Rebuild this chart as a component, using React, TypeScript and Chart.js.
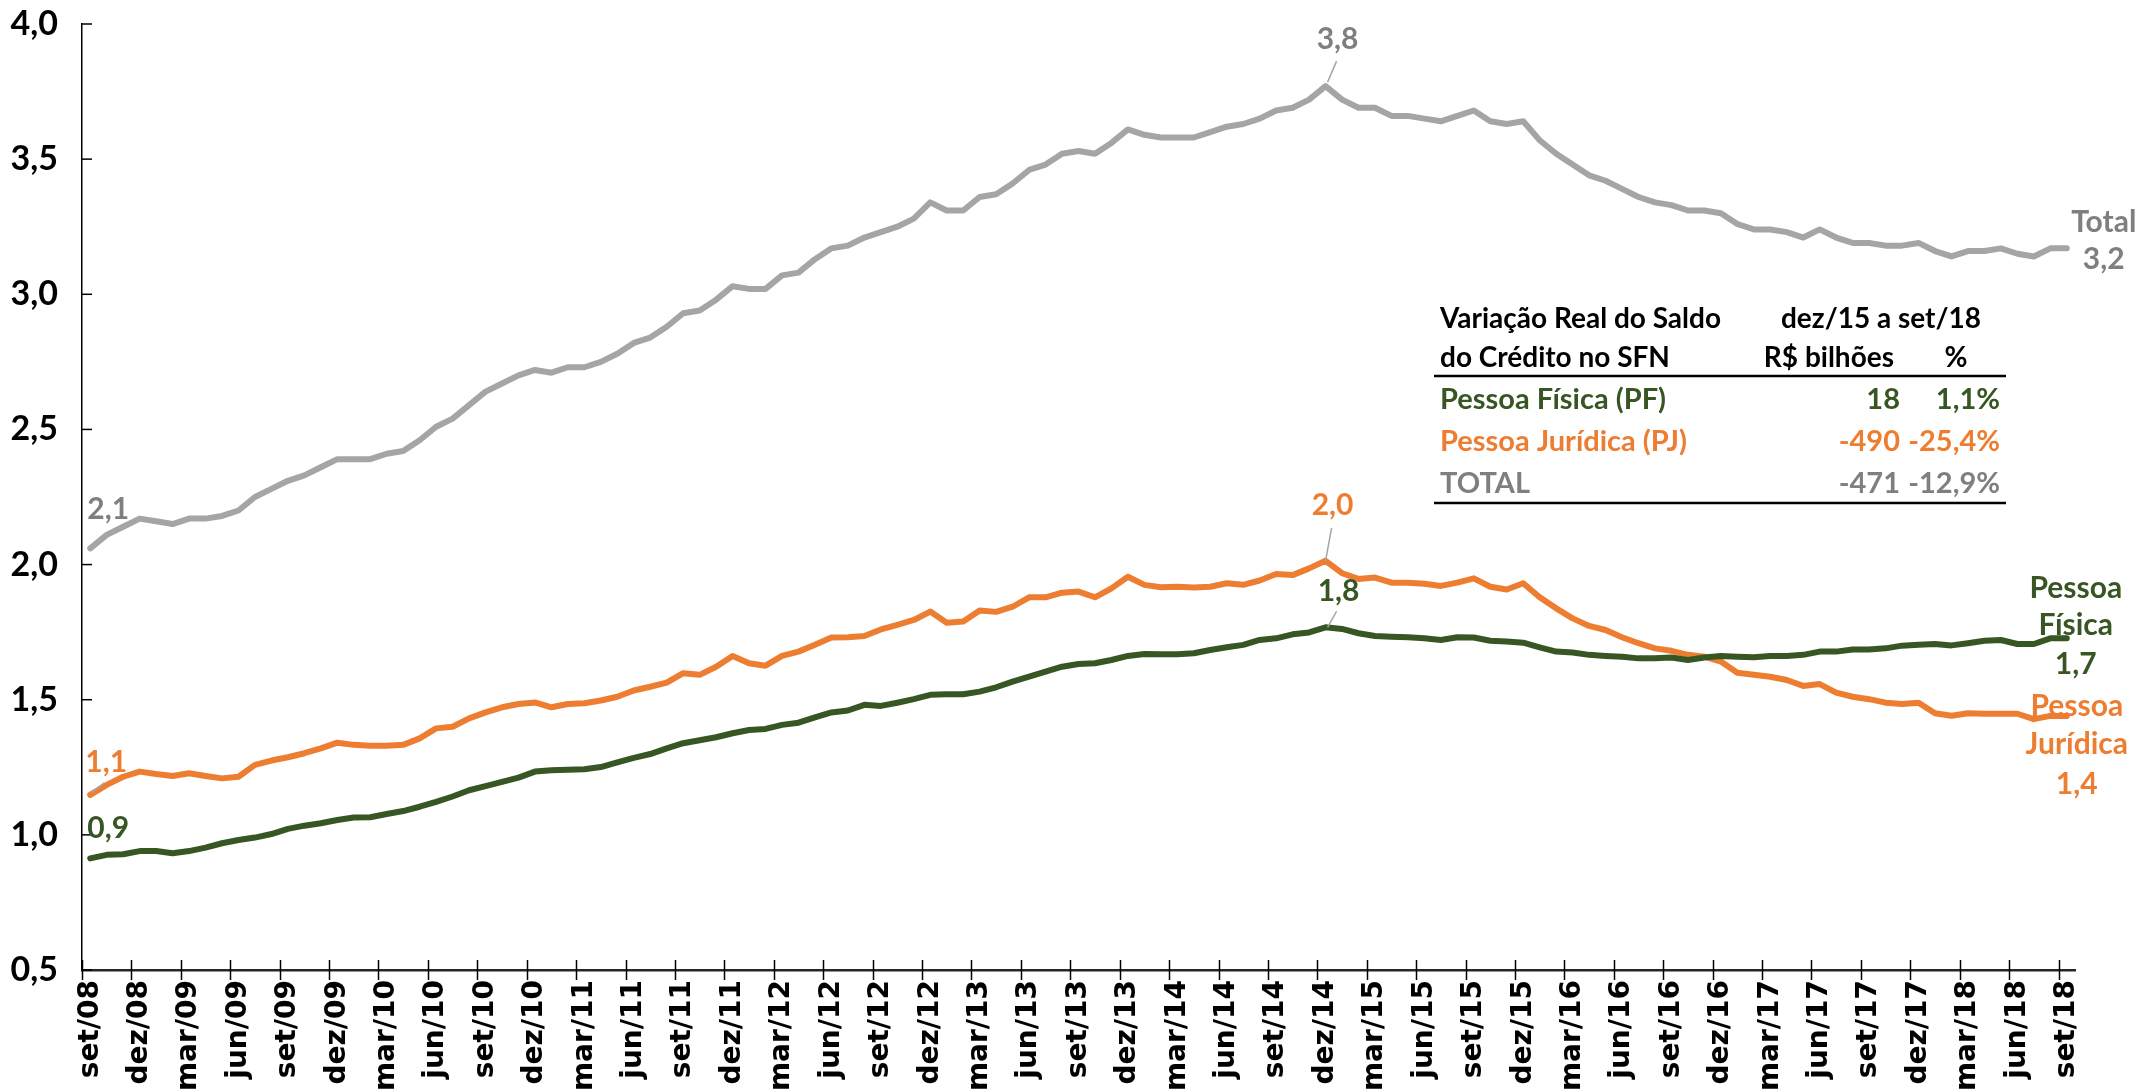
import React, { useEffect, useRef } from "react";
import { Chart, registerables } from "chart.js";

Chart.register(...registerables);

const MONTH_NAMES = ["jan", "fev", "mar", "abr", "mai", "jun", "jul", "ago", "set", "out", "nov", "dez"];
const MONTHS: string[] = [];
for (let k = 0; k < 121; k++) {
  const m = (8 + k) % 12;
  const yr = 8 + Math.floor((8 + k) / 12);
  MONTHS.push(MONTH_NAMES[m] + "/" + String(yr).padStart(2, "0"));
}

const PF = [
  0.913, 0.926, 0.928, 0.94, 0.94, 0.932, 0.94, 0.953, 0.969, 0.981, 0.99, 1.003, 1.022, 1.034, 1.043, 1.055,
  1.064, 1.065, 1.077, 1.088, 1.104, 1.122, 1.142, 1.165, 1.18, 1.196, 1.212, 1.234, 1.239, 1.241, 1.243, 1.251,
  1.268, 1.285, 1.299, 1.32, 1.339, 1.35, 1.361, 1.376, 1.388, 1.392, 1.407, 1.415, 1.435, 1.453, 1.46, 1.481,
  1.477, 1.489, 1.502, 1.518, 1.52, 1.52, 1.53, 1.546, 1.567, 1.585, 1.604, 1.622, 1.632, 1.635, 1.647, 1.662,
  1.669, 1.668, 1.668, 1.672, 1.684, 1.694, 1.703, 1.721, 1.727, 1.742, 1.749, 1.768, 1.762, 1.746, 1.736, 1.733,
  1.731, 1.727, 1.721, 1.731, 1.73, 1.718, 1.715, 1.711, 1.694, 1.678, 1.675, 1.666, 1.662, 1.659, 1.653, 1.653,
  1.656, 1.647, 1.656, 1.662, 1.659, 1.657, 1.662, 1.662, 1.666, 1.678, 1.678, 1.686, 1.686, 1.69, 1.7, 1.703,
  1.706, 1.701, 1.709, 1.718, 1.721, 1.706, 1.706, 1.727, 1.727,
];

const PJ = [
  1.148, 1.185, 1.215, 1.234, 1.225, 1.218, 1.228, 1.218, 1.209, 1.215, 1.259, 1.275, 1.287, 1.302, 1.32, 1.341,
  1.333, 1.33, 1.33, 1.333, 1.357, 1.394, 1.4, 1.431, 1.453, 1.472, 1.484, 1.49, 1.472, 1.484, 1.487, 1.497,
  1.511, 1.534, 1.548, 1.563, 1.598, 1.592, 1.622, 1.662, 1.635, 1.626, 1.662, 1.678, 1.703, 1.73, 1.731, 1.736,
  1.76, 1.777, 1.795, 1.826, 1.785, 1.789, 1.83, 1.825, 1.844, 1.879, 1.879, 1.896, 1.9, 1.879, 1.912, 1.955,
  1.925, 1.916, 1.918, 1.915, 1.918, 1.931, 1.925, 1.941, 1.965, 1.961, 1.986, 2.014, 1.968, 1.947, 1.952, 1.933,
  1.933, 1.929, 1.921, 1.933, 1.949, 1.918, 1.908, 1.931, 1.879, 1.838, 1.801, 1.773, 1.758, 1.731, 1.709, 1.69,
  1.681, 1.666, 1.659, 1.641, 1.6, 1.592, 1.585, 1.573, 1.551, 1.558, 1.526, 1.511, 1.502, 1.489, 1.484, 1.489,
  1.45, 1.441, 1.45, 1.448, 1.448, 1.448, 1.428, 1.44, 1.44,
];

const TOTAL = [
  2.06, 2.11, 2.14, 2.17, 2.16, 2.15, 2.17, 2.17, 2.18, 2.2, 2.25, 2.28, 2.31, 2.33, 2.36, 2.39,
  2.39, 2.39, 2.41, 2.42, 2.46, 2.51, 2.54, 2.59, 2.64, 2.67, 2.7, 2.72, 2.71, 2.73, 2.73, 2.75,
  2.78, 2.82, 2.84, 2.88, 2.93, 2.94, 2.98, 3.03, 3.02, 3.02, 3.07, 3.08, 3.13, 3.17, 3.18, 3.21,
  3.23, 3.25, 3.28, 3.34, 3.31, 3.31, 3.36, 3.37, 3.41, 3.46, 3.48, 3.52, 3.53, 3.52, 3.56, 3.61,
  3.59, 3.58, 3.58, 3.58, 3.6, 3.62, 3.63, 3.65, 3.68, 3.69, 3.72, 3.77, 3.72, 3.69, 3.69, 3.66,
  3.66, 3.65, 3.64, 3.66, 3.68, 3.64, 3.63, 3.64, 3.57, 3.52, 3.48, 3.44, 3.42, 3.39, 3.36, 3.34,
  3.33, 3.31, 3.31, 3.3, 3.26, 3.24, 3.24, 3.23, 3.21, 3.24, 3.21, 3.19, 3.19, 3.18, 3.18, 3.19,
  3.16, 3.14, 3.16, 3.16, 3.17, 3.15, 3.14, 3.17, 3.17,
];

const TABLE_HEAD_1 = ["Variação Real do Saldo", "dez/15 a set/18"];
const TABLE_HEAD_2 = ["do Crédito no SFN", "R$ bilhões", "%"];
const TABLE_ROWS = [
  { name: "Pessoa Física (PF)", value: "18", pct: "1,1%" },
  { name: "Pessoa Jurídica (PJ)", value: "-490", pct: "-25,4%" },
  { name: "TOTAL", value: "-471", pct: "-12,9%" },
];

const GREEN = "#375623";
const ORANGE = "#ED7D31";
const GRAY = "#A5A5A5";
const GRAY_TEXT = "#7F7F7F";
const LABEL_FONT = "bold 30px Lato, 'Open Sans', sans-serif";
const TABLE_HEAD_FONT = "bold 28px Lato, 'Open Sans', sans-serif";
const TABLE_BODY_FONT = "bold 29px Lato, 'Open Sans', sans-serif";

const fmt = (v: number) => v.toFixed(1).replace(".", ",");

const decor = {
  id: "decor",
  afterDraw(chart: any) {
    const ctx = chart.ctx as CanvasRenderingContext2D;
    const xs = chart.scales.x;
    const ys = chart.scales.y;
    const area = chart.chartArea;
    ctx.save();
    ctx.strokeStyle = "#000";
    ctx.lineWidth = 1.5;
    ys.ticks.forEach((t: any) => {
      const py = ys.getPixelForValue(t.value);
      ctx.beginPath();
      ctx.moveTo(area.left, py);
      ctx.lineTo(area.left + 10, py);
      ctx.stroke();
    });
    const w = (xs.right - xs.left) / MONTHS.length;
    for (let i = 0; i < MONTHS.length; i += 3) {
      const bx = Math.round(xs.left + i * w) + 0.5;
      ctx.beginPath();
      ctx.moveTo(bx, area.bottom - 10);
      ctx.lineTo(bx, area.bottom + 10);
      ctx.stroke();
    }

    const pf = chart.getDatasetMeta(0).data;
    const pj = chart.getDatasetMeta(1).data;
    const tt = chart.getDatasetMeta(2).data;
    const last = MONTHS.length - 1;
    const peak = MONTHS.indexOf("dez/14");

    const label = (s: string, x: number, y: number, color: string) => {
      ctx.font = LABEL_FONT;
      ctx.fillStyle = color;
      ctx.textAlign = "center";
      ctx.textBaseline = "middle";
      ctx.fillText(s, x, y);
    };
    const leader = (x1: number, y1: number, x2: number, y2: number) => {
      ctx.strokeStyle = GRAY;
      ctx.lineWidth = 1.5;
      ctx.beginPath();
      ctx.moveTo(x1, y1);
      ctx.lineTo(x2, y2);
      ctx.stroke();
    };

    label(fmt(TOTAL[0]), tt[0].x + 18, tt[0].y - 39, GRAY_TEXT);
    label(fmt(PJ[0]), pj[0].x + 16, pj[0].y - 33, ORANGE);
    leader(pj[0].x + 1, pj[0].y - 2, pj[0].x + 14, pj[0].y - 12);
    label(fmt(PF[0]), pf[0].x + 18, pf[0].y - 30, GREEN);

    const tp = tt[peak], jp = pj[peak], fp = pf[peak];
    label(fmt(TOTAL[peak]), tp.x + 12, tp.y - 47, GRAY_TEXT);
    leader(tp.x + 11, tp.y - 25, tp.x + 2, tp.y - 4);
    label(fmt(PJ[peak]), jp.x + 7, jp.y - 55, ORANGE);
    leader(jp.x + 6, jp.y - 33, jp.x, jp.y);
    label(fmt(PF[peak]), fp.x + 13, fp.y - 36, GREEN);
    leader(fp.x + 11, fp.y - 16, fp.x + 2, fp.y);

    const te = tt[last], fe = pf[last], je = pj[last];
    label("Total", te.x + 37, te.y - 26, GRAY_TEXT);
    label(fmt(TOTAL[last]), te.x + 37, te.y + 11, GRAY_TEXT);
    label("Pessoa", fe.x + 9, fe.y - 50, GREEN);
    label("Física", fe.x + 9, fe.y - 13, GREEN);
    label(fmt(PF[last]), fe.x + 9, fe.y + 26, GREEN);
    label("Pessoa", je.x + 10, je.y - 10, ORANGE);
    label("Jurídica", je.x + 10, je.y + 28, ORANGE);
    label(fmt(PJ[last]), je.x + 10, je.y + 68, ORANGE);

    ctx.textBaseline = "alphabetic";
    const t = (s: string, x: number, y: number, align: CanvasTextAlign, color: string) => {
      ctx.fillStyle = color;
      ctx.textAlign = align;
      ctx.fillText(s, x, y);
    };
    ctx.font = TABLE_HEAD_FONT;
    t(TABLE_HEAD_1[0], 1440, 328, "left", "#000");
    t(TABLE_HEAD_1[1], 1881, 328, "center", "#000");
    t(TABLE_HEAD_2[0], 1440, 367, "left", "#000");
    t(TABLE_HEAD_2[1], 1894, 367, "right", "#000");
    t(TABLE_HEAD_2[2], 1956, 367, "center", "#000");
    ctx.font = TABLE_BODY_FONT;
    const rowColors = [GREEN, ORANGE, GRAY_TEXT];
    TABLE_ROWS.forEach((r, k) => {
      const by = 409 + k * 42;
      t(r.name, 1440, by, "left", rowColors[k]);
      t(r.value, 1900, by, "right", rowColors[k]);
      t(r.pct, 2000, by, "right", rowColors[k]);
    });
    ctx.strokeStyle = "#000";
    ctx.lineWidth = 2.5;
    [376, 503].forEach((ly) => {
      ctx.beginPath();
      ctx.moveTo(1434, ly);
      ctx.lineTo(2006, ly);
      ctx.stroke();
    });
    ctx.restore();
  },
};

export default function App() {
  const ref = useRef<HTMLCanvasElement | null>(null);
  useEffect(() => {
    document.body.style.overflow = "hidden";
    const canvas = ref.current;
    if (!canvas) return;
    const chart = new Chart(canvas, {
      type: "line",
      data: {
        labels: MONTHS,
        datasets: [
          { label: "Pessoa Física", data: PF, borderColor: GREEN, backgroundColor: GREEN },
          { label: "Pessoa Jurídica", data: PJ, borderColor: ORANGE, backgroundColor: ORANGE },
          { label: "Total", data: TOTAL, borderColor: GRAY, backgroundColor: GRAY },
        ],
      },
      options: {
        responsive: false,
        animation: false,
        devicePixelRatio: 1,
        layout: { autoPadding: false, padding: { top: 24, right: 64, left: 0, bottom: 0 } },
        plugins: { legend: { display: false }, tooltip: { enabled: false } },
        elements: {
          point: { radius: 0, hoverRadius: 0 },
          line: { tension: 0, borderWidth: 6, borderJoinStyle: "round", borderCapStyle: "round" },
        },
        scales: {
          x: {
            type: "category",
            offset: true,
            grid: { display: false, drawTicks: false },
            border: { display: true, color: "#262626", width: 2.5 },
            ticks: {
              autoSkip: false,
              maxRotation: 90,
              minRotation: 90,
              padding: 10,
              color: "#000",
              font: { family: "'DejaVu Sans'", weight: "bold", size: 28 },
              callback: (_v: any, i: number) => (i % 3 === 0 ? MONTHS[i] : ""),
            },
            afterFit: (s: any) => {
              s.height = 119;
              s.paddingLeft = 0;
              s.paddingRight = 0;
            },
          },
          y: {
            min: 0.5,
            max: 4.0,
            grid: { display: false, drawTicks: false },
            border: { display: true, color: "#000", width: 1.5 },
            ticks: {
              stepSize: 0.5,
              padding: 24,
              color: "#000",
              font: { family: "Lato, 'Open Sans', sans-serif", weight: "bold", size: 34 },
              callback: (v: any) => fmt(Number(v)),
            },
            afterFit: (s: any) => {
              s.width = 82;
              s.paddingTop = 0;
              s.paddingBottom = 0;
            },
          },
        },
      } as any,
      plugins: [decor],
    });
    return () => chart.destroy();
  }, []);
  return (
    <div style={{ position: "absolute", left: 0, top: 0, width: 2139, height: 1089 }}>
      <canvas ref={ref} width={2139} height={1089} style={{ display: "block" }} />
    </div>
  );
}
